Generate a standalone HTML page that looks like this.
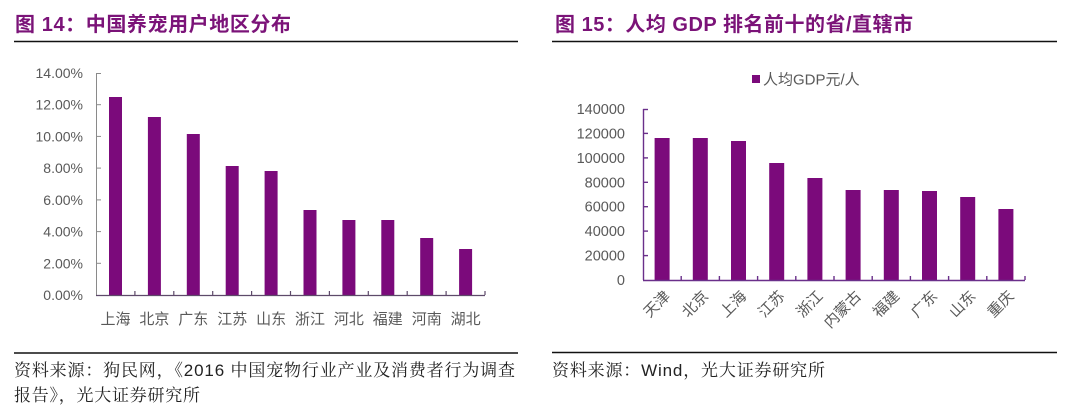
<!DOCTYPE html>
<html>
<head>
<meta charset="utf-8">
<style>
html,body{margin:0;padding:0;background:#fff;}
svg{display:block;}
.t{font-family:"Liberation Sans","Noto Sans CJK SC",sans-serif;font-weight:bold;fill:#7b1378;font-size:20px;}
.ax{font-family:"Liberation Sans","Noto Sans CJK SC",sans-serif;fill:#595959;font-size:14px;}
.src{font-family:"Liberation Sans","Noto Serif CJK SC",serif;fill:#222;font-size:17px;}
</style>
</head>
<body>
<svg width="1076" height="413" viewBox="0 0 1076 413" xmlns="http://www.w3.org/2000/svg">
<rect width="1076" height="413" fill="#fff"/>

<!-- Titles -->
<text class="t" x="15" y="31" textLength="276" lengthAdjust="spacing">图 14：中国养宠用户地区分布</text>
<text class="t" x="555" y="31" textLength="358" lengthAdjust="spacing">图 15：人均 GDP 排名前十的省/直辖市</text>
<line x1="14" y1="41.5" x2="518" y2="41.5" stroke="#111" stroke-width="1.5"/>
<line x1="552" y1="41.5" x2="1057" y2="41.5" stroke="#111" stroke-width="1.5"/>

<!-- Left chart -->
<g class="ax" text-anchor="end">
<text x="83" y="300">0.00%</text>
<text x="83" y="268.3">2.00%</text>
<text x="83" y="236.6">4.00%</text>
<text x="83" y="204.9">6.00%</text>
<text x="83" y="173.1">8.00%</text>
<text x="83" y="141.4">10.00%</text>
<text x="83" y="109.7">12.00%</text>
<text x="83" y="78">14.00%</text>
</g>
<g fill="#7b0a7b">
<rect x="109" y="97" width="13" height="198"/>
<rect x="147.9" y="117" width="13" height="178"/>
<rect x="186.8" y="134" width="13" height="161"/>
<rect x="225.7" y="166" width="13" height="129"/>
<rect x="264.6" y="171" width="13" height="124"/>
<rect x="303.5" y="210" width="13" height="85"/>
<rect x="342.4" y="220" width="13" height="75"/>
<rect x="381.3" y="220" width="13" height="75"/>
<rect x="420.2" y="238" width="13" height="57"/>
<rect x="459.1" y="249" width="13" height="46"/>
</g>
<g stroke="#8a8a8a" stroke-width="1">
<line x1="96.5" y1="73" x2="96.5" y2="295"/>
<line x1="96" y1="73.5" x2="101" y2="73.5"/>
<line x1="96" y1="104.7" x2="101" y2="104.7"/>
<line x1="96" y1="136.4" x2="101" y2="136.4"/>
<line x1="96" y1="168.1" x2="101" y2="168.1"/>
<line x1="96" y1="199.9" x2="101" y2="199.9"/>
<line x1="96" y1="231.6" x2="101" y2="231.6"/>
<line x1="96" y1="263.3" x2="101" y2="263.3"/>
</g>
<g stroke="#5e4a6a" stroke-width="1.2">
<line x1="96" y1="295.5" x2="485" y2="295.5"/>
<line x1="134.9" y1="291" x2="134.9" y2="295"/>
<line x1="173.8" y1="291" x2="173.8" y2="295"/>
<line x1="212.7" y1="291" x2="212.7" y2="295"/>
<line x1="251.6" y1="291" x2="251.6" y2="295"/>
<line x1="290.5" y1="291" x2="290.5" y2="295"/>
<line x1="329.4" y1="291" x2="329.4" y2="295"/>
<line x1="368.3" y1="291" x2="368.3" y2="295"/>
<line x1="407.2" y1="291" x2="407.2" y2="295"/>
<line x1="446.1" y1="291" x2="446.1" y2="295"/>
<line x1="485" y1="291" x2="485" y2="295"/>
</g>
<g class="ax" text-anchor="middle" style="font-size:15px">
<text x="115.5" y="324">上海</text>
<text x="154.4" y="324">北京</text>
<text x="193.3" y="324">广东</text>
<text x="232.2" y="324">江苏</text>
<text x="271.1" y="324">山东</text>
<text x="310" y="324">浙江</text>
<text x="348.9" y="324">河北</text>
<text x="387.8" y="324">福建</text>
<text x="426.7" y="324">河南</text>
<text x="465.6" y="324">湖北</text>
</g>

<!-- Right chart -->
<rect x="752" y="75" width="8" height="8" fill="#7b0a7b"/>
<text class="ax" x="763" y="84.5" style="font-size:15px">人均GDP元/人</text>
<g class="ax" text-anchor="end" style="font-size:14.5px">
<text x="625" y="285">0</text>
<text x="625" y="260.6">20000</text>
<text x="625" y="236.1">40000</text>
<text x="625" y="211.7">60000</text>
<text x="625" y="187.3">80000</text>
<text x="625" y="162.9">100000</text>
<text x="625" y="138.4">120000</text>
<text x="625" y="114">140000</text>
</g>
<g fill="#7b0a7b">
<rect x="654.6" y="138" width="15" height="142"/>
<rect x="692.8" y="138" width="15" height="142"/>
<rect x="731" y="141" width="15" height="139"/>
<rect x="769.2" y="163" width="15" height="117"/>
<rect x="807.4" y="178" width="15" height="102"/>
<rect x="845.6" y="190" width="15" height="90"/>
<rect x="883.8" y="190" width="15" height="90"/>
<rect x="922" y="191" width="15" height="89"/>
<rect x="960.2" y="197" width="15" height="83"/>
<rect x="998.4" y="209" width="15" height="71"/>
</g>
<g stroke="#6a2f8a" stroke-width="1.4">
<line x1="643.5" y1="109" x2="643.5" y2="280"/>
<line x1="643" y1="109.5" x2="648" y2="109.5"/>
<line x1="643" y1="133.4" x2="648" y2="133.4"/>
<line x1="643" y1="157.9" x2="648" y2="157.9"/>
<line x1="643" y1="182.3" x2="648" y2="182.3"/>
<line x1="643" y1="206.7" x2="648" y2="206.7"/>
<line x1="643" y1="231.1" x2="648" y2="231.1"/>
<line x1="643" y1="255.6" x2="648" y2="255.6"/>
<line x1="643" y1="280.5" x2="1025" y2="280.5"/>
<line x1="681.2" y1="276" x2="681.2" y2="280"/>
<line x1="719.4" y1="276" x2="719.4" y2="280"/>
<line x1="757.6" y1="276" x2="757.6" y2="280"/>
<line x1="795.8" y1="276" x2="795.8" y2="280"/>
<line x1="834" y1="276" x2="834" y2="280"/>
<line x1="872.2" y1="276" x2="872.2" y2="280"/>
<line x1="910.4" y1="276" x2="910.4" y2="280"/>
<line x1="948.6" y1="276" x2="948.6" y2="280"/>
<line x1="986.8" y1="276" x2="986.8" y2="280"/>
<line x1="1025" y1="276" x2="1025" y2="280"/>
</g>
<g class="ax" text-anchor="end" style="font-size:15px">
<text transform="translate(671,297) rotate(-45)">天津</text>
<text transform="translate(709.2,297) rotate(-45)">北京</text>
<text transform="translate(747.4,297) rotate(-45)">上海</text>
<text transform="translate(785.6,297) rotate(-45)">江苏</text>
<text transform="translate(823.8,297) rotate(-45)">浙江</text>
<text transform="translate(862,297) rotate(-45)">内蒙古</text>
<text transform="translate(900.2,297) rotate(-45)">福建</text>
<text transform="translate(938.4,297) rotate(-45)">广东</text>
<text transform="translate(976.6,297) rotate(-45)">山东</text>
<text transform="translate(1014.8,297) rotate(-45)">重庆</text>
</g>

<!-- Sources -->
<line x1="14" y1="353" x2="518" y2="353" stroke="#111" stroke-width="1.5"/>
<line x1="552" y1="352.5" x2="1057" y2="352.5" stroke="#111" stroke-width="1.5"/>
<text class="src" x="14" y="376" textLength="501" lengthAdjust="spacing">资料来源：狗民网，《2016 中国宠物行业产业及消费者行为调查</text>
<text class="src" x="14" y="401" textLength="186" lengthAdjust="spacing">报告》，光大证券研究所</text>
<text class="src" x="552" y="376" textLength="273" lengthAdjust="spacing">资料来源：Wind，光大证券研究所</text>
</svg>
</body>
</html>
